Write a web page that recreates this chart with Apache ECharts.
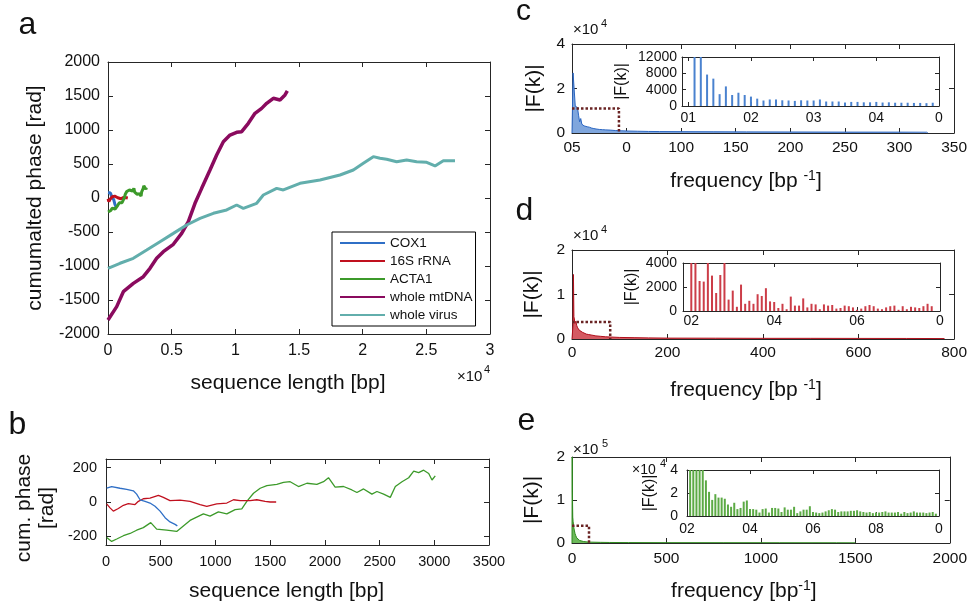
<!DOCTYPE html>
<html>
<head>
<meta charset="utf-8">
<script src="https://cdn.jsdelivr.net/npm/echarts@6/dist/echarts.min.js"></script>
<style>
html, body { margin: 0; padding: 0; background: #fff; }
#chart { width: 970px; height: 603px; }
</style>
</head>
<body>
<div id="chart"></div>
<script>
// ---- data ----
const seriesNames = ['COX1', '16S rRNA', 'ACTA1', 'whole mtDNA', 'whole virus']

const cox1Len = [6, 52, 128, 189, 250, 280, 311, 357, 402, 448, 494, 540, 585, 631, 652]
const cox1Phase = [80, 90, 80, 74, 65, 46, 13, 4, -6, -25, -53, -91, -116, -130, -139]

const rrnaLen = [6, 37, 67, 113, 159, 204, 265, 296, 341, 402, 479, 524, 585, 677, 768, 860, 921, 1012, 1104, 1165, 1226, 1317, 1378, 1454, 1500, 1555]
const rrnaPhase = [-11, -34, -53, -38, -19, -10, -15, 4, 19, 23, 38, 27, 8, 11, 4, -15, -25, -11, -6, 13, 8, 8, 13, 4, 0, 0]

const acta1Len = [6, 52, 98, 159, 220, 280, 341, 409, 463, 555, 646, 707, 768, 829, 890, 951, 1027, 1104, 1180, 1241,
  1287, 1348, 1409, 1470, 1561, 1622, 1683, 1759, 1836, 1927, 1988, 2033, 2094, 2171, 2247, 2293, 2354, 2430, 2476, 2537,
  2598, 2644, 2705, 2766, 2812, 2857, 2903, 2949, 2979, 3009]
const acta1Phase = [-206, -229, -215, -196, -183, -164, -149, -120, -158, -164, -171, -139, -107, -88, -69, -82, -57, -69, -44, -40,
  4, 51, 80, 95, 103, 114, 118, 90, 109, 103, 118, 141, 86, 90, 70, 55, 76, 46, 61, 46,
  27, 90, 118, 141, 179, 171, 185, 166, 128, 152]

const mtdnaLen = [0, 683, 1204, 1990, 2775, 3298, 3822, 4346, 5131, 5785, 6309, 6832, 7356, 8010, 8534, 9058, 9581, 10105, 10497, 11021, 11544, 12068, 12461, 12984, 13508, 13901, 14084]
const mtdnaPhase = [-1794, -1598, -1378, -1255, -1157, -1034, -887, -789, -681, -520, -348, -78, 142, 412, 632, 828, 926, 966, 975, 1098, 1245, 1318, 1392, 1466, 1441, 1515, 1574]

const virusLen = [0, 942, 1990, 3037, 4084, 5131, 6178, 7225, 8272, 9319, 10105, 10628, 11675, 12199, 13246, 13770, 15079, 16649, 18220, 19267, 20052, 20838, 21361, 21885, 22670, 23455, 24241, 25026, 25681, 26335, 27251]
const virusPhase = [-1034, -960, -887, -765, -642, -520, -397, -299, -225, -176, -103, -152, -78, 44, 142, 118, 216, 265, 338, 412, 510, 608, 584, 569, 534, 559, 534, 525, 471, 549, 549]

// spectra (main panels)
const cFreq = [0, 1, 2, 3, 4, 5, 6, 7, 8, 9, 10, 11, 12, 14, 16, 18, 20, 22, 25, 28, 31, 35, 40, 45, 50, 60, 70, 80, 100, 130, 160, 200, 250, 300, 325, 326]
const cAmp = [0, 27000, 27000, 12000, 12000, 11500, 8000, 5000, 6500, 4000, 4500, 3200, 3500, 2800, 2600, 2200, 2000, 1800, 1600, 1500, 1400, 1300, 1100, 1000, 900, 800, 700, 650, 600, 550, 500, 450, 400, 380, 350, 0]
const dFreq = [0, 2, 3, 4, 5, 6, 8, 10, 12, 15, 18, 22, 26, 30, 35, 40, 50, 60, 70, 80, 100, 130, 160, 200, 300, 400, 500, 600, 700, 780]
const dAmp = [0, 3000, 14500, 5000, 4500, 3500, 4000, 3000, 2500, 2000, 1800, 1500, 1300, 1100, 1000, 900, 700, 600, 500, 450, 350, 300, 250, 200, 180, 150, 150, 130, 120, 100]
const eFreq = [0, 1, 2, 4, 6, 8, 10, 13, 16, 20, 25, 30, 40, 50, 60, 80, 100, 150, 200, 300, 500, 800, 1100, 1400, 1500]
const eAmp = [0, 200000, 120000, 60000, 50000, 42000, 35000, 28000, 22000, 17000, 12000, 9000, 6000, 4500, 3500, 2500, 2000, 1500, 1200, 1000, 800, 700, 600, 500, 500]

// insets: bar heights, first bin and tick labels
const cInsetStart = 11
const cInsetAmp = [15000, 15000, 7700, 6700, 2900, 4800, 2700, 3250, 2700, 2300, 1800, 1350, 1600, 1600, 1400, 1350, 1250, 1400, 1350, 1350,
  1600, 1100, 1100, 1100, 850, 1000, 1000, 900, 900, 1000, 850, 900, 800, 800, 800, 750, 750, 700, 800]
const dInsetStart = 20
const dInsetAmp = [5000, 4500, 2500, 2450, 4200, 2950, 1500, 3000, 4100, 950, 1700, 350, 2200, 600, 850, 600, 1400, 1250, 1900, 800,
  750, 250, 600, 150, 1200, 450, 450, 1050, 300, 600, 550, 150, 550, 450, 500, 200, 250, 450, 400, 300,
  100, 200, 400, 500, 400, 200, 150, 300, 400, 450, 100, 400, 150, 350, 300, 250, 400, 600, 400]
const eInsetStart = 21
const eInsetAmp = [50000, 60000, 52000, 46000, 42000, 31000, 21000, 14000, 19000, 16000, 16000, 15000, 10000, 8000, 11500, 6000, 7000, 12500, 13500, 6000,
  6000, 5500, 3000, 6000, 6500, 3000, 7000, 7000, 6500, 3500, 7500, 5500, 5500, 8000, 2500, 4000, 5500, 5500, 8500, 3500,
  3000, 2500, 3000, 4000, 5000, 6000, 5500, 3500, 4000, 4000, 4000, 4500, 4500, 5000, 4000, 3500, 3000, 3500, 2500, 3000,
  3000, 3500, 4000, 3000, 3000, 3000, 3500, 2000, 3500, 2500, 3000, 4000, 3000, 3000, 3000, 2500, 3000, 3500, 2000]

const cMainTicks = { 0: '05', 50: '0' }
const cInsetTicks = { 10: '01', 20: '02', 30: '03', 40: '04', 50: '0' }
const dInsetTicks = { 20: '02', 40: '04', 60: '06', 80: '0' }
const eInsetTicks = { 20: '02', 40: '04', 60: '06', 80: '08', 100: '0' }

// dotted zoom boxes [freq, |F|]
const cBox = [43, 11000]
const dBox = [80, 3800]
const eBox = [90, 40000]

// ---- chart ----
const FONT = "'Liberation Sans', Arial, sans-serif"
const AX = '#262626'
const colors = ['#2f6fc6', '#c0101e', '#3c9a2a', '#8a0a5e', '#62aeac']
const zip = (xs, ys) => xs.map((x, i) => [x, ys[i]])
const bins = (start, ys) => ys.map((y, i) => [start + i, y])
const plain = v => String(v)

const grids = [], xAxes = [], yAxes = []

function axis(g, c, pos, main) {
  return {
    gridIndex: g, type: 'value', position: pos,
    min: c.min, max: c.max, interval: c.interval,
    axisLine: { show: true, onZero: false, lineStyle: { color: AX, width: 1 } },
    axisTick: { show: true, inside: true, length: c.tick || 5, lineStyle: { color: AX }, customValues: c.ticks },
    axisLabel: { show: main, fontSize: c.fontSize, color: '#111', margin: c.margin, formatter: c.fmt || plain,
      customValues: c.ticks, fontFamily: FONT, hideOverlap: false },
    splitLine: { show: false },
    name: main ? c.name : '', nameLocation: 'middle', nameGap: c.nameGap,
    nameTextStyle: { fontSize: c.nameSize, color: '#111', fontFamily: FONT, rich: c.rich,
      lineHeight: c.nameLH, padding: c.namePad }
  }
}

function panel(rect, xc, yc) {
  const g = grids.length
  grids.push(rect)
  const xi = xAxes.length, yi = yAxes.length
  xAxes.push(axis(g, xc, 'bottom', true), axis(g, xc, 'top', false))
  yAxes.push(axis(g, yc, 'left', true), axis(g, yc, 'right', false))
  return { xAxisIndex: xi, yAxisIndex: yi }
}

const supRich = { s: { fontSize: 14, fontFamily: FONT, color: '#111', padding: [0, 0, 11, 0] } }
const freqName = (sp, gap) => ({ name: 'frequency [bp' + sp + '{s|-1}]', nameSize: 21, nameGap: gap, rich: supRich, namePad: [0, 34, 0, 0] })

const pA = panel({ left: 108, top: 62, width: 382, height: 272 },
  { min: 0, max: 30000, interval: 5000, fontSize: 16, margin: 9, fmt: v => String(v / 1e4),
    name: 'sequence length [bp]', nameSize: 21, nameGap: 39, namePad: [0, 22, 0, 0] },
  { min: -2000, max: 2000, interval: 500, fontSize: 16, margin: 8,
    name: 'cumumalted phase [rad]', nameSize: 21, nameGap: 62 })

const pB = panel({ left: 106, top: 459, width: 383, height: 87 },
  { min: 0, max: 3500, interval: 500, fontSize: 14.5, margin: 9,
    name: 'sequence length [bp]', nameSize: 21, nameGap: 36, namePad: [0, 22, 0, 0] },
  { min: -250, max: 250, ticks: [-200, 0, 200], fontSize: 14.5, margin: 9,
    name: 'cum. phase\n[rad]', nameSize: 21, nameLH: 23, nameGap: 47, namePad: [0, 12, 0, 0] })

const pC = panel({ left: 572, top: 44, width: 384, height: 89 },
  Object.assign({ min: 0, max: 350, interval: 50, fontSize: 15.5, margin: 7,
    fmt: v => cMainTicks[v] !== undefined ? cMainTicks[v] : String(v) }, freqName(' ', 36)),
  { min: 0, max: 40000, interval: 20000, fontSize: 15.5, margin: 7, fmt: v => String(v / 1e4),
    name: '|F(k)|', nameSize: 21, nameGap: 27 })

const pD = panel({ left: 572, top: 250, width: 383, height: 89 },
  Object.assign({ min: 0, max: 800, interval: 200, fontSize: 15.5, margin: 6 }, freqName(' ', 39)),
  { min: 0, max: 20000, interval: 10000, fontSize: 15.5, margin: 7, fmt: v => String(v / 1e4),
    name: '|F(k)|', nameSize: 21, nameGap: 29 })

const pE = panel({ left: 572, top: 457, width: 383, height: 89 },
  Object.assign({ min: 0, max: 2000, interval: 500, fontSize: 15.5, margin: 8 }, freqName('', 36)),
  { min: 0, max: 200000, interval: 100000, fontSize: 15.5, margin: 7, fmt: v => String(v / 1e5),
    name: '|F(k)|', nameSize: 21, nameGap: 29 })

const pCi = panel({ left: 682, top: 57, width: 257, height: 49 },
  { min: 9, max: 50, ticks: [10, 20, 30, 40, 50], tick: 4, fontSize: 14, margin: 5, fmt: v => cInsetTicks[v] },
  { min: 0, max: 12000, interval: 4000, tick: 4, fontSize: 14, margin: 5, name: '|F(k)|', nameSize: 16, nameGap: 52 })

const pDi = panel({ left: 683, top: 263, width: 257, height: 48 },
  { min: 18, max: 80, ticks: [20, 40, 60, 80], tick: 4, fontSize: 14, margin: 3, fmt: v => dInsetTicks[v] },
  { min: 0, max: 4000, interval: 2000, tick: 4, fontSize: 14, margin: 6, name: '|F(k)|', nameSize: 16, nameGap: 43 })

const pEi = panel({ left: 687, top: 470, width: 252, height: 46 },
  { min: 20, max: 100, ticks: [20, 40, 60, 80, 100], tick: 4, fontSize: 14, margin: 6, fmt: v => eInsetTicks[v] },
  { min: 0, max: 40000, interval: 20000, tick: 4, fontSize: 14, margin: 9, fmt: v => String(v / 1e4),
    name: '|F(k)|', nameSize: 16, nameGap: 29 })

const line = (p, name, data, color, width) => Object.assign({
  type: 'line', name, data, showSymbol: false, symbol: 'none',
  lineStyle: { color, width }, itemStyle: { color }, clip: true
}, p)

const spectrum = (p, data, color, fill) => Object.assign({
  type: 'line', data, showSymbol: false, symbol: 'none',
  lineStyle: { color, width: 1 }, areaStyle: { color: fill, opacity: 1 }
}, p)

const box = (p, b) => Object.assign({
  type: 'line', data: [[0, b[1]], [b[0], b[1]], [b[0], 0]], showSymbol: false, symbol: 'none', z: 5,
  lineStyle: { color: '#6a2424', width: 2.5, type: [2.5, 2] }
}, p)

const bars = (p, data, color) => Object.assign({
  type: 'bar', data, barWidth: 2, itemStyle: { color }, clip: true
}, p)

const series = [
  line(pA, seriesNames[3], zip(mtdnaLen, mtdnaPhase), colors[3], 3.5),
  line(pA, seriesNames[4], zip(virusLen, virusPhase), colors[4], 3),
  line(pA, seriesNames[0], zip(cox1Len, cox1Phase), colors[0], 3),
  line(pA, seriesNames[1], zip(rrnaLen, rrnaPhase), colors[1], 3),
  line(pA, seriesNames[2], zip(acta1Len, acta1Phase), colors[2], 3),
  line(pB, seriesNames[2], zip(acta1Len, acta1Phase), colors[2], 1.3),
  line(pB, seriesNames[1], zip(rrnaLen, rrnaPhase), colors[1], 1.3),
  line(pB, seriesNames[0], zip(cox1Len, cox1Phase), colors[0], 1.3),
  spectrum(pC, zip(cFreq, cAmp), '#2b66c2', '#7fa6dd'),
  spectrum(pD, zip(dFreq, dAmp), '#b0101c', '#d45a62'),
  spectrum(pE, zip(eFreq, eAmp), '#2f8a1f', '#6cb85a'),
  box(pC, cBox), box(pD, dBox), box(pE, eBox),
  bars(pCi, bins(cInsetStart, cInsetAmp), '#4a82cf'),
  bars(pDi, bins(dInsetStart, dInsetAmp), '#cc3d48'),
  bars(pEi, bins(eInsetStart, eInsetAmp), '#5caa45')
]

const txt = (text, x, y, size, align) => ({
  type: 'text', x, y, silent: true,
  style: { text, fontSize: size, fontFamily: FONT, fill: '#111', align: align || 'left', verticalAlign: 'middle' }
})

const graphic = [
  txt('a', 27.5, 25, 32, 'center'), txt('b', 17.5, 425, 32, 'center'),
  txt('c', 523.5, 12, 30, 'center'), txt('d', 524.5, 211, 32, 'center'), txt('e', 526.5, 421, 32, 'center'),
  txt('×10', 457, 377, 15), txt('4', 484, 370, 11),
  txt('×10', 573, 30, 15), txt('4', 601, 24, 11),
  txt('×10', 573, 236, 15), txt('4', 601, 230, 11),
  txt('×10', 573, 450, 15), txt('5', 602, 444, 11),
  txt('×10', 632, 470, 14), txt('4', 660, 464, 11)
]

const chart = echarts.init(document.getElementById('chart'), null, { renderer: 'canvas' })
chart.setOption({
  animation: false,
  backgroundColor: '#fff',
  textStyle: { fontFamily: FONT },
  grid: grids,
  xAxis: xAxes,
  yAxis: yAxes,
  legend: {
    data: seriesNames, orient: 'vertical', left: 332, top: 232,
    borderColor: '#000', borderWidth: 1, borderRadius: 0, padding: [4, 3, 4, 8],
    itemGap: 4, itemWidth: 45, itemHeight: 2, icon: 'rect', selectedMode: false,
    textStyle: { fontSize: 13.5, color: '#111', fontFamily: FONT }
  },
  series,
  graphic
})
</script>
</body>
</html>
